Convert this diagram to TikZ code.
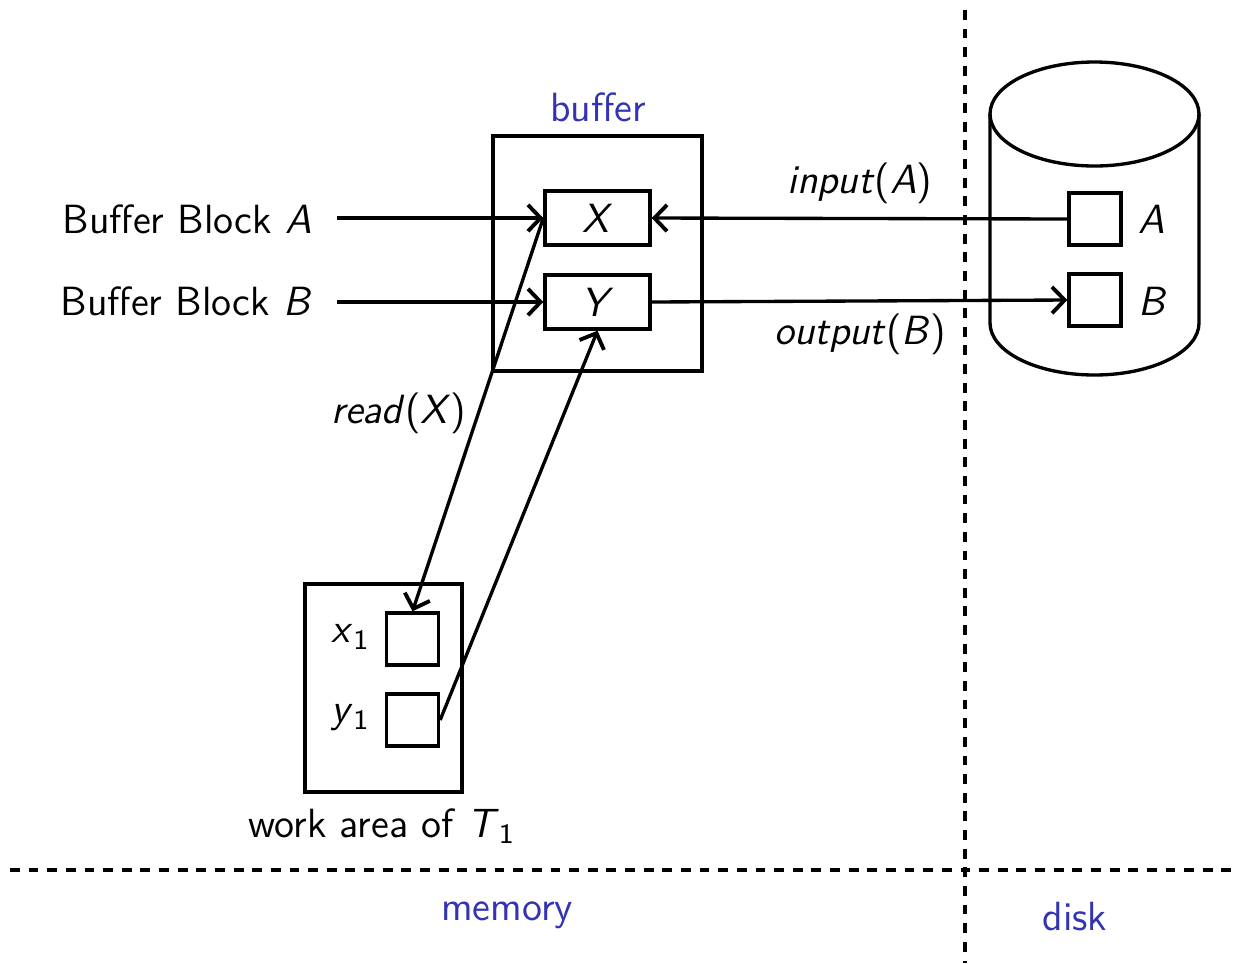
\documentclass[tikz,border=0pt]{standalone}
\usetikzlibrary{arrows.meta}
\usepackage{xcolor}
\definecolor{lblue}{RGB}{51,51,179}
\newcommand{\mi}[1]{\textit{#1}}
\begin{document}
\begin{tikzpicture}[x=0.01cm,y=-0.01cm,
  every node/.style={font=\sffamily\fontsize{11.6}{13.5}\selectfont},
  line width=0.95pt,
  sq/.style={draw,line width=0.95pt,inner sep=0pt,minimum width=0.52cm,minimum height=0.52cm},
  wide/.style={draw,line width=0.95pt,inner sep=0pt,minimum width=1.05cm,minimum height=0.54cm},
  sep/.style={line width=1.1pt,dash pattern=on 2.8pt off 2.5pt},
  lbl/.style={text=lblue},
  arr/.style={-{Straight Barb[length=3.6pt,width=7.5pt,line width=1.1pt]},line width=0.95pt}]
\useasboundingbox (0,0) rectangle (1236,963);
% separators
\draw[sep] (965,10) -- (965,963);
\draw[sep] (10,870) -- (1236,870);
\node[lbl] (mem) at (507,915) {memory};
\node[lbl] (dsk) at (1075,917) {disk};
% buffer
\node[lbl] (buflbl) at (598,107) {buffer};
\node[draw,line width=0.95pt,minimum width=2.09cm,minimum height=2.35cm,inner sep=0pt] (buf) at (597.5,253.5) {};
\node[wide] (X) at (597.5,218) {\mi{X}};
\node[wide] (Y) at (597.5,302) {\mi{Y}};
% left labels
\node[anchor=east] (bbA) at (325,219) {Buffer Block \mi{A}};
\node[anchor=east] (bbB) at (325,301) {Buffer Block \mi{B}};
\coordinate (bbAe) at (337,218);
\coordinate (bbBe) at (337,302);
\draw[arr] (bbAe) -- (X.west);
\draw[arr] (bbBe) -- (Y.west);
% disk cylinder
\draw (1094.5,114) ellipse [x radius=104.5,y radius=52];
\draw (990,114) -- (990,323) arc[start angle=180,end angle=360,x radius=104.5,y radius=-52] -- (1199,114);
\node[sq] (dA) at (1095,219) {};
\node[sq] (dB) at (1095,300) {};
\node (dAl) at (1152,219) {\mi{A}};
\node (dBl) at (1153,301) {\mi{B}};
\draw[arr] (dA.west) -- (X.east);
\draw[arr] (Y.east) -- (dB.west);
\node (inl) at (860,183) {\mi{input}(\mi{A})};
\node (outl) at (860,334) {\mi{output}(\mi{B})};
% work area
\node[draw,line width=0.95pt,minimum width=1.57cm,minimum height=2.08cm,inner sep=0pt] (wa) at (383.5,688) {};
\node (wal) at (382,826) {work area of \mi{T}$_{\mathsf{1}}$};
\node[sq] (x1) at (412.5,639) {};
\node[sq] (y1) at (412.5,720) {};
\node (x1l) at (351,637) {\mi{x}$_{\mathsf{1}}$};
\node (y1l) at (351,718) {\mi{y}$_{\mathsf{1}}$};
\draw[arr] (X.west) -- (x1.north);
\draw[arr] (y1.east) -- (Y.south);
\node (rdl) at (399,413) {\mi{read}(\mi{X})};
\end{tikzpicture}
\end{document}
